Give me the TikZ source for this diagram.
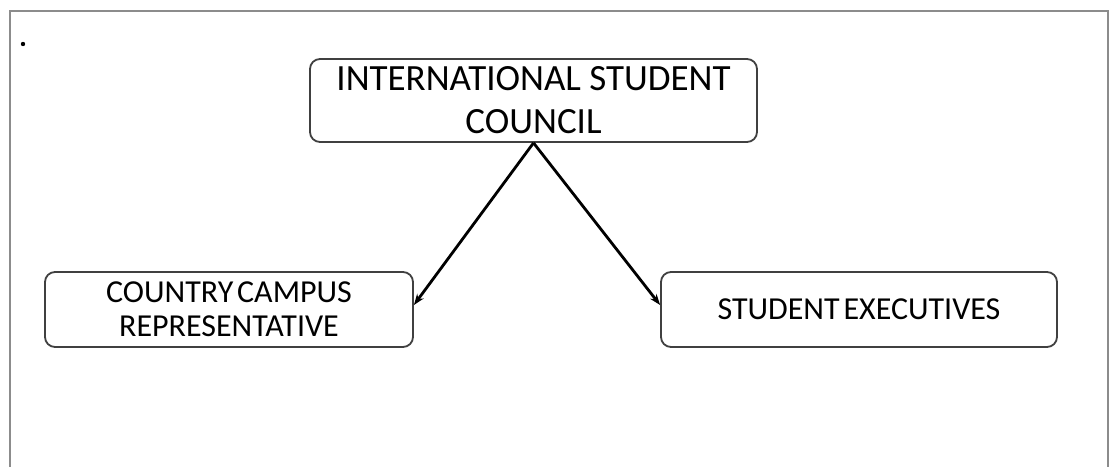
\documentclass[tikz,border=0pt]{standalone}
\usepackage{fontspec}
\setmainfont{Carlito}
\usetikzlibrary{arrows.meta}
\newcommand{\tightsp}{\spaceskip=0.12em\relax}

\tikzset{
  unit/.style={draw=black!75, line width=1.8pt, rounded corners=10pt, align=center, inner sep=0pt},
  link/.style={-{Stealth[length=11pt,width=8pt]}, line width=2.8pt},
}

\begin{document}
\begin{tikzpicture}[x=1pt,y=-1pt]
  \useasboundingbox (0,0) rectangle (1113,466);
  % frame and dot
  \draw[black!45, line width=2.5pt] (10,490) -- (10,11) -- (1108,11) -- (1108,490);
  \fill (23,44) circle (2.2pt);

  \node[unit, minimum width=447pt, minimum height=83pt, font=\fontsize{37}{43}\selectfont] (isc) at (533.5,100.5) {INTERNATIONAL STUDENT\\COUNCIL};
  \node[unit, minimum width=368pt, minimum height=75pt, font=\fontsize{32}{34}\selectfont] (ccr) at (229,309.5) {\tightsp COUNTRY CAMPUS\\REPRESENTATIVE};
  \node[unit, minimum width=396pt, minimum height=75pt, font=\fontsize{32}{34}\selectfont] (se) at (859,309.5) {\tightsp STUDENT EXECUTIVES};

  \draw[link] (isc.south) -- ([yshift=4.5pt]ccr.east);
  \draw[link] (isc.south) -- ([yshift=4.5pt]se.west);
\end{tikzpicture}
\end{document}
